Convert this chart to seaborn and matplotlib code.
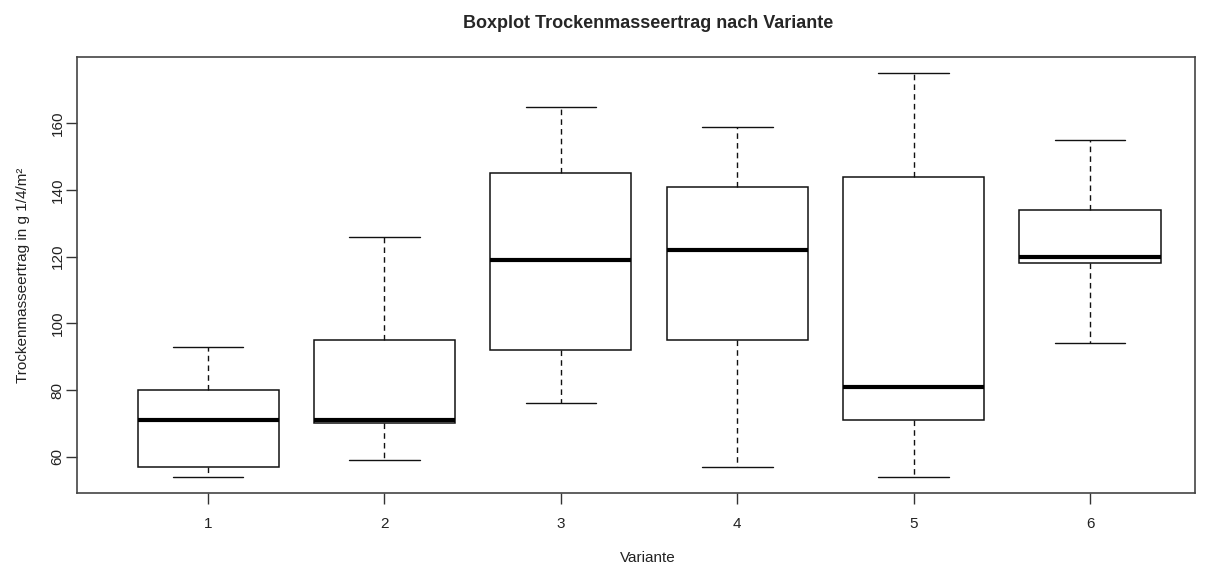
import numpy as np
import pandas as pd
import matplotlib
matplotlib.use("Agg")
import matplotlib.pyplot as plt
import seaborn as sns

variante = ["1", "2", "3", "4", "5", "6"]
v1 = [54, 57, 71, 80, 93]
v2 = [59, 70, 71, 95, 126]
v3 = [76, 92, 119, 145, 165]
v4 = [57, 95, 122, 141, 159]
v5 = [54, 71, 81, 144, 175]
v6 = [94, 118, 120, 134, 155]

df = pd.DataFrame({
    "Variante": np.repeat(variante, 5),
    "Ertrag": v1 + v2 + v3 + v4 + v5 + v6,
})

sns.set_style("white")
plt.rcParams["font.family"] = ["Liberation Sans", "DejaVu Sans"]

fig = plt.figure(figsize=(12.09, 5.65), dpi=100)
ax = fig.add_axes([77 / 1209, 1 - 493 / 565, (1195 - 77) / 1209, (493 - 57) / 565])

sns.boxplot(
    data=df, x="Variante", y="Ertrag", order=variante,
    width=0.8, whis=np.inf, color="white", ax=ax,
    boxprops=dict(facecolor="white", edgecolor="#111111", linewidth=1.1),
    medianprops=dict(color="black", linewidth=3),
    whiskerprops=dict(color="#111111", linewidth=1, linestyle=(0, (4, 3))),
    capprops=dict(color="#111111", linewidth=1),
    showfliers=False,
)
ax.set_xlim(-0.743, 5.595)
ax.set_ylim(49.16, 179.84)
ax.set_yticks([60, 80, 100, 120, 140, 160])
ax.set_yticklabels(["60", "80", "100", "120", "140", "160"], rotation=90, va="center")
ax.tick_params(axis="both", direction="out", length=8, width=1, color="#333333",
               labelsize=11, labelcolor="#222222", left=True, bottom=True)
ax.tick_params(axis="x", pad=9)
ax.tick_params(axis="y", pad=1)

for s in ax.spines.values():
    s.set_color("#444444")
    s.set_linewidth(1.2)

ax.set_xlabel("Variante", fontsize=11, color="#222222", labelpad=15)
ax.xaxis.label.set_x((648 - 77) / 1118)
ax.set_ylabel("Trockenmasseertrag in g 1/4/m²", fontsize=11, color="#222222", labelpad=15)
fig.text(648 / 1209, 1 - 23 / 565, "Boxplot Trockenmasseertrag nach Variante",
         fontsize=13, fontweight="bold", ha="center", va="center")

plt.savefig("out.png", dpi=100)
plt.close()
